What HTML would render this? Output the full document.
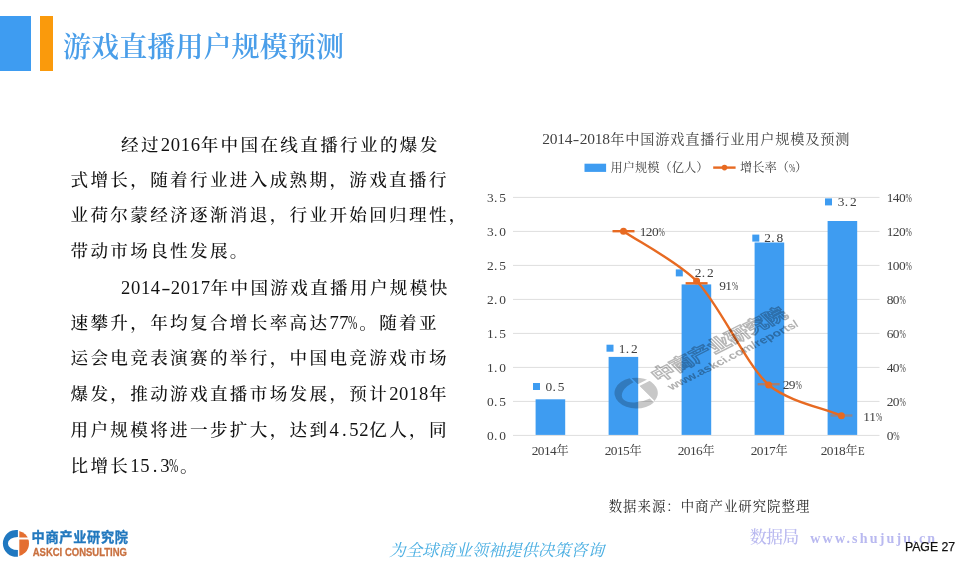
<!DOCTYPE html>
<html lang="zh-CN">
<head>
<meta charset="utf-8">
<title>游戏直播用户规模预测</title>
<style>
html,body{margin:0;padding:0;background:#fff;}
body{width:976px;height:563px;position:relative;overflow:hidden;font-family:"Liberation Serif","Noto Serif CJK SC",serif;color:#1a1a1a;}
.abs{position:absolute;white-space:nowrap;}
#blue{left:0;top:16px;width:31px;height:55px;background:#3e9cf1;}
#orange{left:40px;top:15.6px;width:12.7px;height:55.4px;background:#fa9a0c;}
#title{left:63px;top:28.1px;height:40px;line-height:40px;font-size:28px;font-weight:600;color:#4a9ee9;letter-spacing:0.1px;}
.ln{position:absolute;white-space:nowrap;left:70.5px;height:35.65px;line-height:35.65px;font-size:17.6px;letter-spacing:2.32px;color:#111;font-weight:500;}
.ln.ind{left:121px;}
.ln i{font-style:normal;letter-spacing:0.66px;font-size:18.6px;}
.ln b{font-weight:normal;display:inline-block;width:9.96px;text-align:center;letter-spacing:0;font-size:18.6px;}
.ln b.p{transform:scaleX(.6);transform-origin:0 50%;text-align:left;margin-left:-1.2px;margin-right:1.2px;}
.ln b.h{transform:scaleX(1.5);}
</style>
</head>
<body>
<div id="blue" class="abs"></div>
<div id="orange" class="abs"></div>
<div id="title" class="abs">游戏直播用户规模预测</div>

<div class="ln ind" style="top:126.90px">经过<i>2016</i>年中国在线直播行业的爆发</div>
<div class="ln" style="top:162.55px">式增长，随着行业进入成熟期，游戏直播行</div>
<div class="ln" style="top:198.20px">业荷尔蒙经济逐渐消退，行业开始回归理性，</div>
<div class="ln" style="top:233.85px">带动市场良性发展。</div>
<div class="ln ind" style="top:269.50px"><i>2014</i><b class="h">-</b><i>2017</i>年中国游戏直播用户规模快</div>
<div class="ln" style="top:305.15px">速攀升，年均复合增长率高达<i>77</i><b class="p">%</b>。随着亚</div>
<div class="ln" style="top:340.80px">运会电竞表演赛的举行，中国电竞游戏市场</div>
<div class="ln" style="top:376.45px">爆发，推动游戏直播市场发展，预计<i>2018</i>年</div>
<div class="ln" style="top:412.10px">用户规模将进一步扩大，达到<i>4</i><b>.</b><i>52</i>亿人，同</div>
<div class="ln" style="top:447.75px">比增长<i>15</i><b>.</b><i>3</i><b class="p">%</b>。</div>
<svg class="abs" style="left:0;top:0" width="976" height="563" viewBox="0 0 976 563" font-family="'Liberation Serif','Noto Serif CJK SC',serif" font-size="12.2" fill="#404040">
<g stroke="#dedede" stroke-width="1">
<line x1="513" x2="879.5" y1="197.4" y2="197.4"/>
<line x1="513" x2="879.5" y1="231.4" y2="231.4"/>
<line x1="513" x2="879.5" y1="265.4" y2="265.4"/>
<line x1="513" x2="879.5" y1="299.4" y2="299.4"/>
<line x1="513" x2="879.5" y1="333.4" y2="333.4"/>
<line x1="513" x2="879.5" y1="367.4" y2="367.4"/>
<line x1="513" x2="879.5" y1="401.4" y2="401.4"/>
<line x1="513" x2="879.5" y1="435.4" y2="435.4"/>
</g>
<g fill="#3e9cf1">
<rect x="535.6" y="399.3" width="29.6" height="35.6"/>
<rect x="608.6" y="356.9" width="29.6" height="78.0"/>
<rect x="681.6" y="284.4" width="29.6" height="150.5"/>
<rect x="754.6" y="242.5" width="29.6" height="192.4"/>
<rect x="827.6" y="221.0" width="29.6" height="213.9"/>
</g>
<text x="486.9 493.9 499.2" y="201.8" font-size="12.2" ><tspan font-size="13.4">3.5</tspan></text>
<text x="886.7 892.8 899.0 905.5" y="201.8" font-size="12.2" ><tspan font-size="13.4">140<tspan textLength="6.3" lengthAdjust="spacingAndGlyphs">%</tspan></tspan></text>
<text x="486.9 493.9 499.2" y="235.8" font-size="12.2" ><tspan font-size="13.4">3.0</tspan></text>
<text x="886.7 892.8 899.0 905.5" y="235.8" font-size="12.2" ><tspan font-size="13.4">120<tspan textLength="6.3" lengthAdjust="spacingAndGlyphs">%</tspan></tspan></text>
<text x="486.9 493.9 499.2" y="269.8" font-size="12.2" ><tspan font-size="13.4">2.5</tspan></text>
<text x="886.7 892.8 899.0 905.5" y="269.8" font-size="12.2" ><tspan font-size="13.4">100<tspan textLength="6.3" lengthAdjust="spacingAndGlyphs">%</tspan></tspan></text>
<text x="486.9 493.9 499.2" y="303.8" font-size="12.2" ><tspan font-size="13.4">2.0</tspan></text>
<text x="886.7 892.8 899.4" y="303.8" font-size="12.2" ><tspan font-size="13.4">80<tspan textLength="6.3" lengthAdjust="spacingAndGlyphs">%</tspan></tspan></text>
<text x="486.9 493.9 499.2" y="337.8" font-size="12.2" ><tspan font-size="13.4">1.5</tspan></text>
<text x="886.7 892.8 899.4" y="337.8" font-size="12.2" ><tspan font-size="13.4">60<tspan textLength="6.3" lengthAdjust="spacingAndGlyphs">%</tspan></tspan></text>
<text x="486.9 493.9 499.2" y="371.8" font-size="12.2" ><tspan font-size="13.4">1.0</tspan></text>
<text x="886.7 892.8 899.4" y="371.8" font-size="12.2" ><tspan font-size="13.4">40<tspan textLength="6.3" lengthAdjust="spacingAndGlyphs">%</tspan></tspan></text>
<text x="486.9 493.9 499.2" y="405.8" font-size="12.2" ><tspan font-size="13.4">0.5</tspan></text>
<text x="886.7 892.8 899.4" y="405.8" font-size="12.2" ><tspan font-size="13.4">20<tspan textLength="6.3" lengthAdjust="spacingAndGlyphs">%</tspan></tspan></text>
<text x="486.9 493.9 499.2" y="439.8" font-size="12.2" ><tspan font-size="13.4">0.0</tspan></text>
<text x="886.7 893.2" y="439.8" font-size="12.2" ><tspan font-size="13.4">0<tspan textLength="6.3" lengthAdjust="spacingAndGlyphs">%</tspan></tspan></text>
<text x="531.7 537.8 544.0 550.1 556.5" y="455.0" font-size="12.2" ><tspan font-size="13.4">2014</tspan>年</text>
<text x="604.7 610.8 617.0 623.1 629.5" y="455.0" font-size="12.2" ><tspan font-size="13.4">2015</tspan>年</text>
<text x="677.7 683.8 690.0 696.1 702.5" y="455.0" font-size="12.2" ><tspan font-size="13.4">2016</tspan>年</text>
<text x="750.7 756.8 763.0 769.1 775.5" y="455.0" font-size="12.2" ><tspan font-size="13.4">2017</tspan>年</text>
<text x="820.7 826.8 833.0 839.1 845.5 857.9" y="455.0" font-size="12.2" ><tspan font-size="13.4">2018</tspan>年<tspan font-size="13.4"><tspan textLength="6.7" lengthAdjust="spacingAndGlyphs">E</tspan></tspan></text>
<rect x="533.0" y="383.0" width="7" height="7" fill="#3e9cf1"/>
<text x="545.4 552.4 557.7" y="390.8" font-size="12.2" ><tspan font-size="13.4">0.5</tspan></text>
<rect x="606.5" y="344.7" width="7" height="7" fill="#3e9cf1"/>
<text x="618.7 625.7 631.0" y="352.5" font-size="12.2" ><tspan font-size="13.4">1.2</tspan></text>
<rect x="675.8" y="269.4" width="7" height="7" fill="#3e9cf1"/>
<text x="694.7 701.7 707.0" y="277.2" font-size="12.2" ><tspan font-size="13.4">2.2</tspan></text>
<rect x="752.3" y="234.6" width="7" height="7" fill="#3e9cf1"/>
<text x="764.3 771.3 776.6" y="242.4" font-size="12.2" ><tspan font-size="13.4">2.8</tspan></text>
<rect x="825.0" y="198.4" width="7" height="7" fill="#3e9cf1"/>
<text x="837.7 844.7 850.0" y="206.2" font-size="12.2" ><tspan font-size="13.4">3.2</tspan></text>
<path d="M623.5 231.2 C636.5 240.5 676.0 260.5 696.6 281.0 C720.8 306.6 744.6 362.5 768.7 385.0 C790 402.5 826 408.5 841.4 415.8" fill="none" stroke="#e76a22" stroke-width="2.4" stroke-linecap="round"/>
<g stroke="#e76a22" stroke-width="2.4" fill="#e76a22">
<line x1="612.5" x2="634.5" y1="231.2" y2="231.2" stroke-opacity="1.00"/><circle cx="623.5" cy="231.2" r="2.3"/>
<line x1="685.6" x2="707.6" y1="283.3" y2="283.3" stroke-opacity="1.00"/><circle cx="696.6" cy="281.0" r="2.3"/>
<line x1="757.7" x2="779.7" y1="384.2" y2="384.2" stroke-opacity="0.60"/><circle cx="768.7" cy="385.0" r="2.3"/>
<line x1="830.4" x2="852.4" y1="415.5" y2="415.5" stroke-opacity="0.45"/><circle cx="841.4" cy="415.8" r="2.3"/>
</g>
<text x="639.7 645.8 652.0 658.5" y="235.5" font-size="12.2" ><tspan font-size="13.4">120<tspan textLength="6.3" lengthAdjust="spacingAndGlyphs">%</tspan></tspan></text>
<text x="719.2 725.3 731.9" y="290.2" font-size="12.2" ><tspan font-size="13.4">91<tspan textLength="6.3" lengthAdjust="spacingAndGlyphs">%</tspan></tspan></text>
<text x="782.7 788.8 795.4" y="388.6" font-size="12.2" ><tspan font-size="13.4">29<tspan textLength="6.3" lengthAdjust="spacingAndGlyphs">%</tspan></tspan></text>
<text x="863.2 869.3 875.9" y="420.7" font-size="12.2" ><tspan font-size="13.4">11<tspan textLength="6.3" lengthAdjust="spacingAndGlyphs">%</tspan></tspan></text>
<text x="542.2 549.7 557.2 564.7 572.8 579.7 587.2 594.7 602.2 610.2 625.2 640.2 655.2 670.2 685.2 700.2 715.2 730.2 745.2 760.2 775.2 790.2 805.2 820.2 835.2" y="144.4" font-size="14.2" ><tspan font-size="15.5">2014<tspan textLength="6.5" lengthAdjust="spacingAndGlyphs">-</tspan>2018</tspan>年中国游戏直播行业用户规模及预测</text>
<rect x="584.5" y="163.7" width="21.6" height="8.2" fill="#3e9cf1"/>
<text x="610.5 622.8 635.0 647.3 659.5 671.8 684.0 696.3" y="172.0" font-size="12.2" >用户规模（亿人）</text>
<line x1="713.2" x2="735.6" y1="167.6" y2="167.6" stroke="#e76a22" stroke-width="2.4"/><circle cx="724.5" cy="167.6" r="2.8" fill="#e76a22"/>
<text x="740.0 752.3 764.5 776.8 789.1 795.1" y="172.0" font-size="12.2" >增长率（<tspan font-size="13.4"><tspan textLength="6.3" lengthAdjust="spacingAndGlyphs">%</tspan></tspan>）</text>
<text x="608.7 623.1 637.5 651.9 666.3 680.7 695.1 709.5 723.9 738.3 752.7 767.1 781.5 795.9" y="510.6" font-size="13.4" fill="#262626">数据来源：中商产业研究院整理</text>
<g transform="translate(636.4,393) scale(1,0.71) rotate(-35.5)" style="mix-blend-mode:multiply">
<defs><clipPath id="cpW"><path d="M8.3 -24h20v14.8h-20z M8.3 -6.4h20v30h-20z"/></clipPath></defs>
<path d="M6.5 -20.91 A21.9 21.9 0 1 0 6.5 20.91 L6.5 14 A22.3 14 0 0 1 6.5 -14 Z" fill="#c8c8c8"/>
<circle cx="0" cy="0" r="21.4" fill="#c8c8c8" clip-path="url(#cpW)"/>
<text x="27" y="0.5" font-family="'Liberation Sans','Noto Sans CJK SC',sans-serif" font-weight="bold" font-size="23" fill="none" stroke="#b6b6b6" stroke-width="1.7" textLength="160" lengthAdjust="spacing">中商产业研究院</text>
<text x="30.5" y="17.5" font-family="'Liberation Sans',sans-serif" font-weight="bold" font-size="14" fill="#b0b0b0" textLength="158" lengthAdjust="spacingAndGlyphs">www.askci.com/reports/</text>
</g>
</svg>
<svg class="abs" style="left:0;top:0" width="976" height="563" viewBox="0 0 976 563">
<defs><clipPath id="cpR"><path d="M19.3 529h12v8.6h-12z M19.3 539.6h12v18h-12z"/></clipPath></defs>
<path d="M17.9 530.10 A13.4 13.4 0 1 0 17.9 556.70 L17.9 550.1 A10 6.6 0 0 1 17.9 536.9 Z" fill="#2078c0"/>
<circle cx="16.2" cy="543.4" r="12.8" fill="#e46e30" clip-path="url(#cpR)"/>
<text x="31.6" y="542.2" font-family="'Liberation Sans','Noto Sans CJK SC',sans-serif" font-weight="bold" font-size="13.2" fill="#2278be" stroke="#2278be" stroke-width="0.35" textLength="96.4" lengthAdjust="spacing">中商产业研究院</text>
<text x="32.7" y="555.9" font-family="'Liberation Sans',sans-serif" font-weight="bold" font-size="11" fill="#c9703f" stroke="#c9703f" stroke-width="0.3" textLength="94.3" lengthAdjust="spacingAndGlyphs">ASKCI CONSULTING</text>
<text x="389" y="556.1" font-family="'Liberation Serif','Noto Serif CJK SC',serif" font-style="italic" font-size="16.6" fill="#49aee2" textLength="215" lengthAdjust="spacing">为全球商业领袖提供决策咨询</text>
<g fill="#b9b9f0" font-family="'Liberation Serif','Noto Serif CJK SC',serif"><text x="749.7" y="542.8" font-size="17" font-weight="500" textLength="49.5" lengthAdjust="spacing">数据局</text>
<text x="810.3" y="542.8" font-size="14" font-weight="bold" textLength="124.8" lengthAdjust="spacing">www.shujuju.cn</text></g>
<text x="904.9" y="551.3" font-family="'Liberation Sans',sans-serif" font-size="13.3" fill="#111" stroke="#111" stroke-width="0.25" textLength="50.3" lengthAdjust="spacingAndGlyphs">PAGE 27</text>
</svg>
</body>
</html>
